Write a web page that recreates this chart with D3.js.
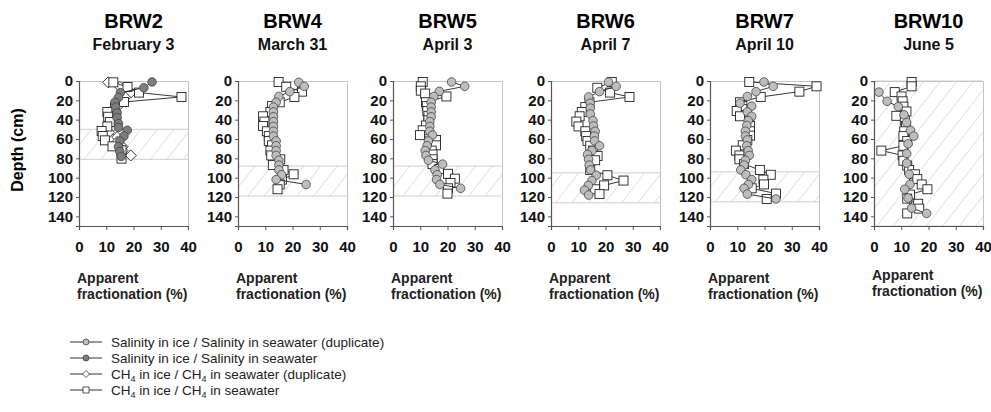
<!DOCTYPE html>
<html>
<head>
    <meta charset="utf-8">
    <script src="https://d3js.org/d3.v7.min.js"></script>
    <style>
        body { margin: 0; background: #fff; }
        svg { font-family: "Liberation Sans", Arial, sans-serif; }
    </style>
</head>
<body>
    <svg width="991" height="412"></svg>
    <script>
        // cores and sampling dates
        const cores = ["BRW2", "BRW4", "BRW5", "BRW6", "BRW7", "BRW10"]
        const dates = ["February 3", "March 31", "April 3", "April 7", "April 10", "June 5"]
        // hatched (skeletal layer) depth range per core, cm
        const hatchTop = [50, 88, 88, 95, 94, 0]
        const hatchBottom = [81, 119, 119, 126, 125, 150]
        const xTicks = [0, 10, 20, 30, 40]
        const yTicks = [0, 20, 40, 60, 80, 100, 120, 140]

        // [apparent fractionation %, depth cm]
        // BRW2
        const brw2_sal = [[26.8,1],[23.8,7],[15.2,12],[14.5,17],[13.2,22],[13.5,27],[14,33],[14,38],[14.5,44],[14.5,48],[17.7,51],[16.5,57],[15,62],[14.5,68],[15,73],[15.5,78]]
        const brw2_ch4dup = [[10.7,1.4],[15,6],[19,12],[17,17],[15,22],[14,27],[13,33],[12,38],[13,43],[12,48],[11,53],[14,58],[14,63],[16,68],[16,72],[19,77]]
        const brw2_ch4 = [[12.6,1.4],[17.8,6.2],[22,12],[37.6,16.5],[16.5,21.7],[13.2,26.9],[10.4,32],[10.7,37],[11.3,42.4],[10.4,47],[8.3,51.7],[8.7,56.9],[9.5,61.4],[12.3,67.6],[15.6,71.7],[15.6,80.3]]
        // BRW4
        const brw4_saldup = [[22.3,1.4],[24.3,5.5],[19,11],[15,16],[14,22],[13,27],[13,32],[13,37],[13,42],[13,47],[13,52],[13,57],[14,62],[14,67],[14,72],[14,77],[15,82],[15,87],[15,92],[16,97],[14,102],[25,107]]
        const brw4_ch4 = [[14.9,1],[17.7,6],[23.5,11],[20.7,16.5],[15.3,22],[12.5,26],[11.9,32],[9.2,36.5],[9.7,42],[9.2,46.5],[10.6,52],[11.3,57],[11.3,62],[12.5,66.5],[11.9,72],[12.2,77],[15.5,81],[12.8,87],[16.7,92],[20.4,96.5],[16.1,102],[15.3,107],[14.5,112]]
        // BRW5
        const brw5_saldup = [[21.5,1],[26.3,5.5],[17,10.7],[15,16],[14,22],[14,27],[14,32],[14,37],[13.5,42],[13.5,47],[13.5,52],[14.5,56],[13,62],[12.5,67],[11.8,72],[12.1,77],[13,82],[18.2,86],[15.4,92],[16.2,97],[16,102],[17.2,107],[24.8,111]]
        const brw5_ch4 = [[10.9,1],[10.2,5.5],[10.2,10],[11.8,13],[19.6,16],[12.1,22],[12.4,26],[12.6,31],[13,36],[13,40.7],[12.1,46],[10.9,51],[9.9,56],[15.8,61],[15.8,66.5],[14.2,72],[14.5,76],[14.5,81],[14.5,86],[17,91],[20.2,96],[22.7,101],[21.1,105.5],[20.2,111],[20,116.5]]
        // BRW6
        const brw6_saldup = [[21.1,1],[23.9,5.5],[17.8,11],[13.8,16.5],[14.4,23],[14.4,28],[14.4,34],[15.4,41],[15.6,46.5],[16.2,52],[15.9,57],[16,62],[17.8,67],[15,72],[13.4,76],[13.8,81],[14,87],[14.5,92],[16.6,97.5],[15,103],[13.7,108],[12.3,113],[13.8,118]]
        const brw6_ch4 = [[22.3,1],[17,7],[21.7,12],[28.8,16.5],[14.1,22],[12.6,27],[11.3,32],[10.5,36.5],[9.3,42],[10.1,47],[12.6,52],[12.9,57],[13.4,62],[14.4,67],[15.4,72],[17.1,77.5],[16.2,82],[14.4,92],[20.7,97.5],[26.6,103],[19.5,108],[16.2,112],[17.8,117]]
        // BRW7
        const brw7_saldup = [[19.8,1],[23.2,5.5],[16.9,11],[13.7,16],[11,23],[15.3,26],[13.7,32],[15.3,36.5],[14,41],[13.5,46],[13,52],[13,57],[13.7,61],[13.5,67],[14,72],[14.4,77],[13,82],[12.5,87],[11.3,92],[13.2,97],[15.3,102],[14.1,107],[12.5,111],[13.7,117],[24.2,122]]
        const brw7_ch4 = [[14.4,1],[39.1,5.5],[32.8,11],[18.6,16.5],[11,22],[11.9,26],[9.8,31],[11,36.5],[14.4,41],[14.7,46.5],[14.7,52],[14.7,56.5],[13.7,61],[12,66.5],[9.5,72],[10.8,77],[10.8,81],[12.5,86],[18.3,92],[22.3,97],[19.6,102],[19.8,107],[15.3,111],[24.2,116.5],[20.8,122]]
        // BRW10
        const brw10_saldup = [[1.8,11.5],[4.8,21],[8.9,26.5],[11,35],[12,43],[13.4,51],[14.6,57],[12.5,65],[12,75],[12,85],[12.9,96.5],[13.2,107],[11.3,112],[12.5,121],[13.8,131.5],[19.3,137]]
        const brw10_ch4 = [[13.8,1],[13.8,5.5],[7.6,11.5],[10.1,16],[10.5,21],[10.8,26.5],[11.9,31.5],[8.2,36],[11.3,41],[11.7,46.5],[11.1,52],[10.8,57],[12.2,62],[10.8,67],[2.7,72],[10.5,77],[10.8,82.5],[12.2,87.5],[12.9,92],[15,96.5],[15.9,101.5],[17.5,107],[19.6,112],[13.2,117.5],[12.2,121.7],[16.2,127],[16.6,132],[12.2,137]]

        const salDup = [[], brw4_saldup, brw5_saldup, brw6_saldup, brw7_saldup, brw10_saldup]
        const sal = [brw2_sal, [], [], [], [], []]
        const ch4Dup = [brw2_ch4dup, [], [], [], [], []]
        const ch4 = [brw2_ch4, brw4_ch4, brw5_ch4, brw6_ch4, brw7_ch4, brw10_ch4]

        const svg = d3.select("svg")
        const panelX = [79, 238, 393, 551, 710, 874]
        const pw = 109
        const plotTop = 81, plotBottom = 226

        const x = d3.scaleLinear().domain([0, 40]).range([0, pw])
        const y = d3.scaleLinear().domain([0, 150]).range([0, plotBottom - plotTop])

        // hatch pattern
        const defs = svg.append("defs")
        const pat = defs.append("pattern")
            .attr("id", "hatch")
            .attr("patternUnits", "userSpaceOnUse")
            .attr("width", 13).attr("height", 13)
            .attr("patternTransform", "rotate(38)")
        pat.append("line")
            .attr("x1", 0).attr("y1", 0).attr("x2", 0).attr("y2", 13)
            .attr("stroke", "#c8c8c8").attr("stroke-width", 1)

        const line = d3.line().x(d => x(d[0])).y(d => y(d[1]))

        function drawSeries(g, data, kind){
            if(data.length == 0) return
            g.append("path")
                .attr("d", line(data))
                .attr("fill", "none")
                .attr("stroke", "#222")
                .attr("stroke-width", 0.9)
            const m = g.selectAll(null).data(data).enter()
            if(kind == "sal" || kind == "saldup"){
                m.append("circle")
                    .attr("cx", d => x(d[0])).attr("cy", d => y(d[1]))
                    .attr("r", 4.3)
                    .attr("fill", kind == "sal" ? "#7d7d7d" : "#bdbdbd")
                    .attr("stroke", "#444").attr("stroke-width", 0.8)
            } else if(kind == "ch4dup"){
                m.append("path")
                    .attr("d", d => "M" + x(d[0]) + "," + (y(d[1]) - 5.5) + "l5.5,5.5l-5.5,5.5l-5.5,-5.5z")
                    .attr("fill", "#fff")
                    .attr("stroke", "#222").attr("stroke-width", 0.9)
            } else {
                m.append("rect")
                    .attr("x", d => x(d[0]) - 4.5).attr("y", d => y(d[1]) - 4.5)
                    .attr("width", 9).attr("height", 9)
                    .attr("fill", "#fff")
                    .attr("stroke", "#222").attr("stroke-width", 0.9)
            }
        }

        cores.forEach((c, i) => {
            const g = svg.append("g").attr("transform", "translate(" + panelX[i] + "," + plotTop + ")")

            // hatched band
            const h0 = y(hatchTop[i]), h1 = y(hatchBottom[i])
            g.append("rect")
                .attr("x", 0).attr("y", h0).attr("width", pw).attr("height", h1 - h0)
                .attr("fill", "url(#hatch)")
            g.selectAll(null).data([h0, h1]).enter().append("line")
                .attr("x1", 0).attr("x2", pw).attr("y1", d => d).attr("y2", d => d)
                .attr("stroke", "#cfcfcf").attr("stroke-width", 1)

            // frame top/right
            g.append("path")
                .attr("d", "M0,0.5H" + (pw + 0.5) + "V" + (plotBottom - plotTop))
                .attr("fill", "none").attr("stroke", "#c4c4c4").attr("stroke-width", 1)

            drawSeries(g, ch4Dup[i], "ch4dup")
            drawSeries(g, ch4[i], "ch4")
            drawSeries(g, salDup[i], "saldup")
            drawSeries(g, sal[i], "sal")

            // axes
            const ya = g.append("g")
                .call(d3.axisLeft(y).tickValues(yTicks).tickSize(3).tickPadding(3))
            const xa = g.append("g").attr("transform", "translate(0," + (plotBottom - plotTop) + ")")
                .call(d3.axisBottom(x).tickValues(xTicks).tickSize(4).tickPadding(11))
            ;[ya, xa].forEach(a => {
                a.select(".domain").attr("stroke", "#555").attr("stroke-width", 1.2)
                a.selectAll(".tick line").attr("stroke", "#555")
                a.selectAll("text")
                    .style("font-family", "'Liberation Sans', Arial, sans-serif")
                    .style("font-size", "15px").style("font-weight", "bold").attr("fill", "#111")
            })

            // titles
            svg.append("text")
                .attr("x", panelX[i] + pw / 2).attr("y", 28)
                .attr("text-anchor", "middle")
                .style("font-size", "20px").style("font-weight", "bold")
                .text(c)
            svg.append("text")
                .attr("x", panelX[i] + pw / 2).attr("y", 50)
                .attr("text-anchor", "middle")
                .style("font-size", "16px").style("font-weight", "bold").attr("fill", "#111")
                .text(dates[i])

            // x label
            const lx = panelX[i] - 2
            const xl = svg.append("text")
                .attr("x", lx).attr("y", i == 5 ? 280 : 283)
                .style("font-size", "14px").style("font-weight", "bold").attr("fill", "#222")
            xl.append("tspan").attr("x", lx).text("Apparent")
            xl.append("tspan").attr("x", lx).attr("dy", 16).text("fractionation (%)")
        })

        svg.append("text")
            .attr("transform", "translate(23,150) rotate(-90)")
            .attr("text-anchor", "middle")
            .style("font-size", "16px").style("font-weight", "bold")
            .text("Depth (cm)")

        // legend
        const legendY = [342, 358, 374, 390]
        const legendKinds = ["saldup", "sal", "ch4dup", "ch4"]
        const leg = svg.append("g")
        legendKinds.forEach((k, i) => {
            const ly = legendY[i]
            leg.append("line").attr("x1", 70).attr("x2", 102).attr("y1", ly).attr("y2", ly)
                .attr("stroke", "#333").attr("stroke-width", 1)
            if(k == "saldup" || k == "sal"){
                leg.append("circle").attr("cx", 86).attr("cy", ly).attr("r", 3)
                    .attr("fill", k == "sal" ? "#7d7d7d" : "#bdbdbd")
                    .attr("stroke", "#444").attr("stroke-width", 0.8)
            } else if(k == "ch4dup"){
                leg.append("path").attr("d", "M86," + (ly - 3.5) + "l3.5,3.5l-3.5,3.5l-3.5,-3.5z")
                    .attr("fill", "#fff").attr("stroke", "#333").attr("stroke-width", 0.8)
            } else {
                leg.append("rect").attr("x", 83).attr("y", ly - 3).attr("width", 6).attr("height", 6)
                    .attr("fill", "#fff").attr("stroke", "#333").attr("stroke-width", 0.8)
            }
            const t = leg.append("text").attr("x", 111).attr("y", ly + 5)
                .style("font-size", "13.5px").attr("fill", "#222")
            if(k == "saldup") t.text("Salinity in ice / Salinity in seawater (duplicate)")
            else if(k == "sal") t.text("Salinity in ice / Salinity in seawater")
            else {
                t.append("tspan").text("CH")
                t.append("tspan").attr("dy", 3).style("font-size", "9px").text("4")
                t.append("tspan").attr("dy", -3).text(" in ice / CH")
                t.append("tspan").attr("dy", 3).style("font-size", "9px").text("4")
                t.append("tspan").attr("dy", -3).text(k == "ch4dup" ? " in seawater (duplicate)" : " in seawater")
            }
        })
    </script>
</body>
</html>
